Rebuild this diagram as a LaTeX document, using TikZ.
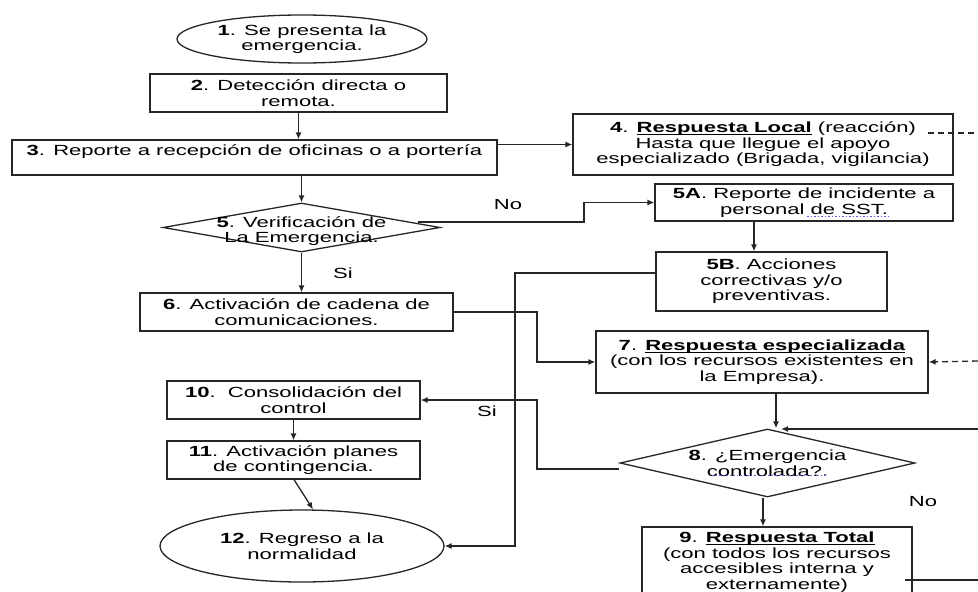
\documentclass[tikz,border=0pt]{standalone}
\usepackage{fontspec}
\setmainfont{Liberation Sans}[FakeStretch=1.5]
\usetikzlibrary{shapes.geometric,arrows.meta,calc}
\newcommand\txtsize{\fontsize{14.7}{15.5}\selectfont}
\newcommand\ulbold[1]{\setbox0\hbox{\textbf{#1}}\rlap{\rule[-2.2pt]{\wd0}{0.9pt}}\box0\relax}
\definecolor{linkblue}{RGB}{90,90,230}
\begin{document}
\begin{tikzpicture}[x=1pt,y=-1pt,
  base/.style={line width=1.3pt, draw=black!85},
  box/.style={base, rectangle, inner sep=0pt, align=center, font=\txtsize},
  oval/.style={base, ellipse, inner sep=0pt, align=center, font=\txtsize},
  dia/.style={base, diamond, inner sep=0pt},
  txt/.style={align=center, font=\txtsize, inner sep=0pt},
  lbl/.style={font=\txtsize, inner sep=0pt},
  arr/.style={base, -{Latex[length=7pt,width=6pt]}},
  ln/.style={base},
  dashln/.style={dash pattern=on 6pt off 4pt},
  linkline/.style={draw=linkblue, line width=0.9pt, dash pattern=on 1.5pt off 2pt}]
\useasboundingbox (0,0) rectangle (978,592);
\clip (0,0) rectangle (978,592);

% nodes
\node[oval, minimum width=250pt, minimum height=48pt] (e1) at (302,39) {\textbf{1}. Se presenta la\\emergencia.};
\node[box, minimum width=297pt, minimum height=38pt] (b2) at (298.5,93) {\textbf{2}. Detección directa o\\remota.};
\node[box, minimum width=485pt, minimum height=35pt] (b3) at (254.5,157.5) {\textbf{3}. Reporte a recepción de oficinas o a portería\\\mbox{}};
\node[box, minimum width=380pt, minimum height=61pt] (b4) at (763,144.5) {\textbf{4}. \ulbold{Respuesta Local} (reacción)\\Hasta que llegue el apoyo\\especializado (Brigada, vigilancia)};
\node[dia, minimum width=277pt, minimum height=49pt] (d5) at (301.5,227.5) {};
\node[txt] (t5) at (301.5,231) {\textbf{5}. Verificación de\\La Emergencia.};
\node[box, minimum width=298pt, minimum height=37pt] (b5a) at (804,202.5) {\textbf{5A}. Reporte de incidente a\\personal de SST.};
\node[box, minimum width=231pt, minimum height=59pt] (b5b) at (771.5,281.5) {\textbf{5B}. Acciones\\correctivas y/o\\preventivas.};
\node[box, minimum width=313pt, minimum height=38pt] (b6) at (296.5,312) {\textbf{6}. Activación de cadena de\\comunicaciones.};
\node[box, minimum width=332pt, minimum height=62pt] (b7) at (762,362) {\textbf{7}. \ulbold{Respuesta especializada}\\(con los recursos existentes en\\la Empresa).};
\node[dia, minimum width=295pt, minimum height=68pt] (d8) at (767.5,463) {};
\node[txt] (t8) at (767.5,463) {\textbf{8}. ¿Emergencia\\controlada?.};
\node[box, minimum width=270pt, minimum height=70pt] (b9) at (777,562) {\textbf{9}. \ulbold{Respuesta Total}\\(con todos los recursos\\accesibles interna y\\externamente)};
\node[box, minimum width=253pt, minimum height=38pt] (b10) at (293.5,400) {\textbf{10}.\ \ Consolidación del\\control};
\node[box, minimum width=253pt, minimum height=38pt] (b11) at (293.5,460) {\textbf{11}. Activación planes\\de contingencia.};
\node[oval, minimum width=284pt, minimum height=72pt] (e12) at (302,546) {\textbf{12}. Regreso a la\\normalidad};

% labels
\node[lbl] (no1) at (508,205) {No};
\node[lbl] (si1) at (343,273) {Si};
\node[lbl] (si2) at (487,411) {Si};
\node[lbl] (no2) at (923,502) {No};

% helper coordinates
\coordinate (x515) at (515,0);
\coordinate (x537) at (537,0);
\coordinate (x584) at (584,0);
\coordinate (x754) at (754,0);
\coordinate (x763) at (763,0);
\coordinate (x776) at (776,0);
\coordinate (x781) at (781,0);
\coordinate (y273) at (0,273);
\coordinate (s5) at ($(d5.center)+(116,-5.5)$);
\coordinate (s8) at ($(d8.west)+(0,6)$);
\coordinate (s4) at (928,133);
\coordinate (r3) at (978,133);
\coordinate (r1) at (978,429);
\coordinate (r4) at (978,361);
\coordinate (s9) at (905,580);
\coordinate (r2) at (978,580);

% connectors
\draw[arr] (b2.south) -- (b3.north -| b2.south);
\draw[arr] (b4.west -| b3.east) -- (b4.west);
\draw[arr] (b3.south -| d5.north) -- (d5.north);
\draw[arr] (s5) -- (s5 -| x584) |- (b5a.west);
\draw[arr] (b5a.south -| x754) -- (b5b.north -| x754);
\draw[arr] (d5.south) -- (b6.north -| d5.south);
\draw[arr] (b5b.west |- y273) -- (x515 |- y273) -- (x515 |- e12.east) -- (e12.east);
\draw[arr] (b6.east) -- (b6.east -| x537) |- (b7.west);
\draw[arr] (s8) -- (s8 -| x537) |- (b10.east);
\draw[arr] (b7.south -| x776) -- (d8.north -| x776);
\draw[arr] (r1) -- (r1 -| x781);
\draw[arr] (d8.south -| x763) -- (b9.north -| x763);
\draw[arr] (b10.south) -- (b11.north);
\draw[arr] ($(b11.south)+(0.5,0)$) -- ($(e12.north)+(11,0)$);
\draw[ln] (s9) -- (r2);
\draw[ln,dashln] (s4) -- (r3);
\draw[arr,dashln] (r4) -- (b7.east);

% faint link underlines
\draw[linkline] (807,216) -- (888,216);
\draw[linkline] (712,475) -- (827,475);
\end{tikzpicture}
\end{document}
